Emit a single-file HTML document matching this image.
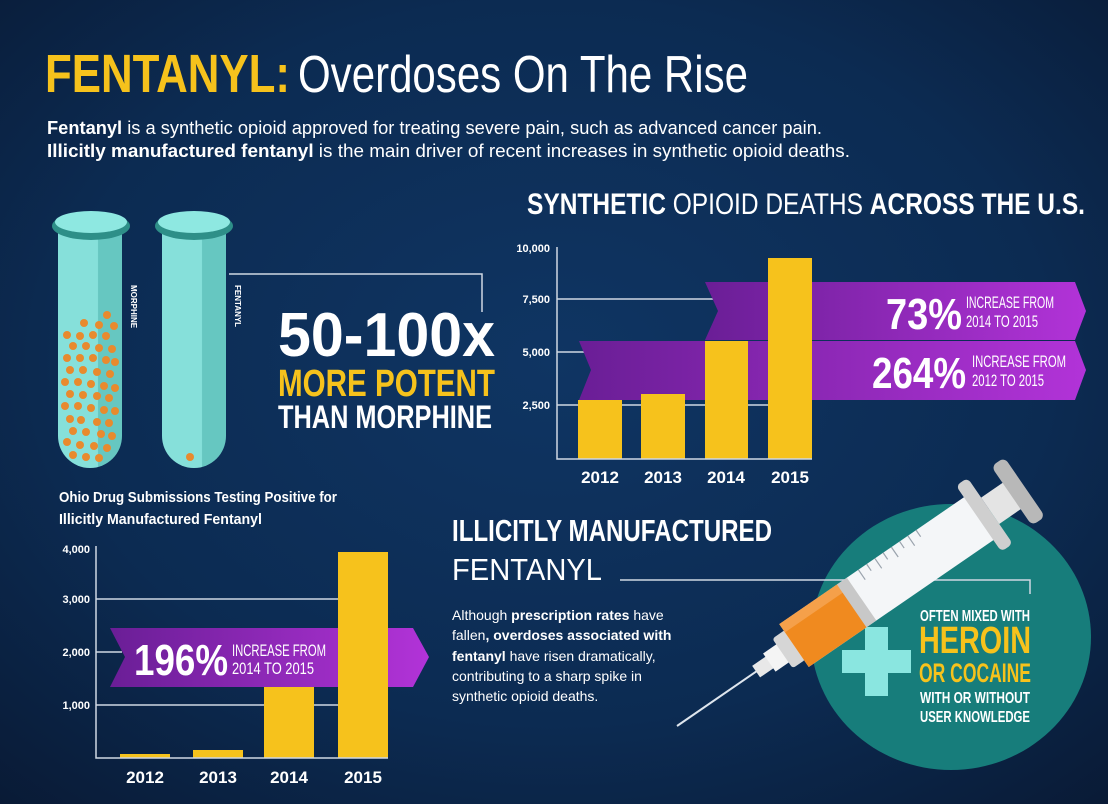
<!DOCTYPE html>
<html><head><meta charset="utf-8"><style>
html,body{margin:0;padding:0;background:#0b2244;}
svg{display:block}
text{font-family:"Liberation Sans Narrow","Liberation Sans",sans-serif;}
.w{fill:#fff}
.y{fill:#f6c21c}
</style></head><body>
<svg width="1108" height="804" viewBox="0 0 1108 804" xmlns="http://www.w3.org/2000/svg">
<defs>
<radialGradient id="bg" cx="0.5" cy="0.45" r="0.75">
<stop offset="0" stop-color="#0f3563"/><stop offset="0.6" stop-color="#0c2b52"/><stop offset="1" stop-color="#091a35"/>
</radialGradient>
<linearGradient id="rib" x1="0" x2="1" y1="0" y2="0">
<stop offset="0" stop-color="#6a1e96"/><stop offset="1" stop-color="#b233d8"/>
</linearGradient>
<linearGradient id="tube" x1="0" x2="1">
<stop offset="0" stop-color="#86e0da"/><stop offset="0.62" stop-color="#86e0da"/><stop offset="0.63" stop-color="#66c7c1"/><stop offset="1" stop-color="#66c7c1"/>
</linearGradient>
</defs>
<rect width="1108" height="804" fill="url(#bg)"/>

<!-- Title -->
<text x="45" y="92" font-size="54" font-weight="bold" class="y" textLength="245" lengthAdjust="spacingAndGlyphs">FENTANYL:</text>
<text x="298" y="92" font-size="52" class="w" textLength="450" lengthAdjust="spacingAndGlyphs">Overdoses On The Rise</text>
<text x="47" y="134" font-size="18" class="w" font-family="Liberation Sans" textLength="775" lengthAdjust="spacingAndGlyphs"><tspan font-weight="bold">Fentanyl</tspan> is a synthetic opioid approved for treating severe pain, such as advanced cancer pain.</text>
<text x="47" y="157" font-size="18" class="w" textLength="803" lengthAdjust="spacingAndGlyphs"><tspan font-weight="bold">Illicitly manufactured fentanyl</tspan> is the main driver of recent increases in synthetic opioid deaths.</text>

<!-- Tubes -->
<g>
<rect x="58" y="228" width="64" height="240" rx="32" fill="url(#tube)"/>
<rect x="58" y="228" width="64" height="180" fill="url(#tube)"/>
<ellipse cx="91" cy="226" rx="39" ry="14" fill="#2e8f88"/>
<ellipse cx="91" cy="222" rx="36" ry="11" fill="#8ee8e1"/>
<rect x="162" y="228" width="64" height="240" rx="32" fill="url(#tube)"/>
<rect x="162" y="228" width="64" height="180" fill="url(#tube)"/>
<ellipse cx="194" cy="226" rx="39" ry="14" fill="#2e8f88"/>
<ellipse cx="194" cy="222" rx="36" ry="11" fill="#8ee8e1"/>
<g fill="#e88a2e">
<circle cx="107" cy="315" r="4"/><circle cx="84" cy="323" r="4"/><circle cx="99" cy="325" r="4"/><circle cx="114" cy="326" r="4"/>
<circle cx="67" cy="335" r="4"/><circle cx="80" cy="336" r="4"/><circle cx="93" cy="335" r="4"/><circle cx="106" cy="336" r="4"/>
<circle cx="73" cy="346" r="4"/><circle cx="86" cy="346" r="4"/><circle cx="99" cy="348" r="4"/><circle cx="112" cy="349" r="4"/>
<circle cx="67" cy="358" r="4"/><circle cx="80" cy="358" r="4"/><circle cx="93" cy="358" r="4"/><circle cx="106" cy="360" r="4"/><circle cx="115" cy="362" r="4"/>
<circle cx="70" cy="370" r="4"/><circle cx="83" cy="370" r="4"/><circle cx="97" cy="372" r="4"/><circle cx="110" cy="374" r="4"/>
<circle cx="65" cy="382" r="4"/><circle cx="78" cy="382" r="4"/><circle cx="91" cy="384" r="4"/><circle cx="104" cy="386" r="4"/><circle cx="115" cy="388" r="4"/>
<circle cx="70" cy="394" r="4"/><circle cx="83" cy="395" r="4"/><circle cx="97" cy="396" r="4"/><circle cx="109" cy="398" r="4"/>
<circle cx="65" cy="406" r="4"/><circle cx="78" cy="406" r="4"/><circle cx="91" cy="408" r="4"/><circle cx="104" cy="410" r="4"/><circle cx="115" cy="411" r="4"/>
<circle cx="70" cy="419" r="4"/><circle cx="81" cy="420" r="4"/><circle cx="97" cy="422" r="4"/><circle cx="109" cy="423" r="4"/>
<circle cx="73" cy="431" r="4"/><circle cx="86" cy="432" r="4"/><circle cx="101" cy="434" r="4"/><circle cx="112" cy="436" r="4"/>
<circle cx="67" cy="442" r="4"/><circle cx="80" cy="445" r="4"/><circle cx="94" cy="446" r="4"/><circle cx="107" cy="448" r="4"/>
<circle cx="73" cy="455" r="4"/><circle cx="86" cy="457" r="4"/><circle cx="99" cy="458" r="4"/>
<circle cx="190" cy="457" r="4"/>
</g>
<text transform="translate(131,285) rotate(90)" font-size="8" class="w" font-weight="bold">MORPHINE</text>
<text transform="translate(235,285) rotate(90)" font-size="8" class="w" font-weight="bold">FENTANYL</text>
</g>
<polyline points="229,274 482,274 482,312" fill="none" stroke="#cfd8e3" stroke-width="1.5"/>
<text x="278" y="356" font-size="62" font-weight="bold" class="w" textLength="217" lengthAdjust="spacingAndGlyphs">50-100x</text>
<text x="278" y="396" font-size="38" font-weight="bold" class="y" textLength="217" lengthAdjust="spacingAndGlyphs">MORE POTENT</text>
<text x="278" y="428" font-size="32" font-weight="bold" class="w" textLength="214" lengthAdjust="spacingAndGlyphs">THAN MORPHINE</text>

<!-- Chart 1 -->
<text x="527" y="214" font-size="30" class="w" textLength="558" lengthAdjust="spacingAndGlyphs"><tspan font-weight="bold">SYNTHETIC</tspan> OPIOID DEATHS <tspan font-weight="bold">ACROSS THE U.S.</tspan></text>
<g font-size="11" font-weight="bold" class="w" text-anchor="end" font-family="Liberation Sans">
<text x="550" y="252">10,000</text><text x="550" y="303">7,500</text><text x="550" y="356">5,000</text><text x="550" y="409">2,500</text>
</g>
<g stroke="#cfd8e3" stroke-width="1.5">
<line x1="557" y1="299" x2="713" y2="299"/><line x1="557" y1="352" x2="585" y2="352"/><line x1="557" y1="405" x2="770" y2="405"/>
</g>
<polygon points="705,282 1075,282 1086,311 1075,340 705,340 718,311" fill="url(#rib)"/>
<polygon points="579,341 1075,341 1086,370 1075,400 579,400 591,370" fill="url(#rib)"/>
<g class="y">
<rect x="578" y="400" width="44" height="59"/><rect x="641" y="394" width="44" height="65"/><rect x="705" y="341" width="43" height="118"/><rect x="768" y="258" width="44" height="201"/>
</g>
<polyline points="557,247 557,459 812,459" fill="none" stroke="#cfd8e3" stroke-width="1.5"/>
<g font-size="17" font-weight="bold" class="w" text-anchor="middle" font-family="Liberation Sans">
<text x="600" y="483">2012</text><text x="663" y="483">2013</text><text x="726" y="483">2014</text><text x="790" y="483">2015</text>
</g>
<text x="886" y="329" font-size="44" font-weight="bold" class="w" textLength="76" lengthAdjust="spacingAndGlyphs">73%</text>
<text x="966" y="308" font-size="17" class="w" textLength="88" lengthAdjust="spacingAndGlyphs">INCREASE FROM</text>
<text x="966" y="327" font-size="17" class="w" textLength="72" lengthAdjust="spacingAndGlyphs">2014 TO 2015</text>
<text x="872" y="388" font-size="44" font-weight="bold" class="w" textLength="94" lengthAdjust="spacingAndGlyphs">264%</text>
<text x="972" y="367" font-size="17" class="w" textLength="94" lengthAdjust="spacingAndGlyphs">INCREASE FROM</text>
<text x="972" y="386" font-size="17" class="w" textLength="72" lengthAdjust="spacingAndGlyphs">2012 TO 2015</text>

<!-- Chart 2 -->
<text x="59" y="502" font-size="15" font-weight="bold" class="w" textLength="278" lengthAdjust="spacingAndGlyphs">Ohio Drug Submissions Testing Positive for</text>
<text x="59" y="524" font-size="15" font-weight="bold" class="w" textLength="203" lengthAdjust="spacingAndGlyphs">Illicitly Manufactured Fentanyl</text>
<g font-size="11" font-weight="bold" class="w" text-anchor="end" font-family="Liberation Sans">
<text x="90" y="553">4,000</text><text x="90" y="603">3,000</text><text x="90" y="656">2,000</text><text x="90" y="709">1,000</text>
</g>
<g stroke="#cfd8e3" stroke-width="1.5">
<line x1="96" y1="599" x2="338" y2="599"/><line x1="96" y1="652" x2="122" y2="652"/><line x1="96" y1="705" x2="338" y2="705"/>
</g>
<g class="y"><rect x="120" y="754" width="50" height="4"/><rect x="193" y="750" width="50" height="8"/><rect x="264" y="660" width="50" height="98"/></g>
<polygon points="110,628 413,628 429,657 413,687 110,687 125,657" fill="url(#rib)"/>
<rect x="338" y="552" width="50" height="206" class="y"/>
<polyline points="96,546 96,758 388,758" fill="none" stroke="#cfd8e3" stroke-width="1.5"/>
<g font-size="17" font-weight="bold" class="w" text-anchor="middle" font-family="Liberation Sans">
<text x="145" y="783">2012</text><text x="218" y="783">2013</text><text x="289" y="783">2014</text><text x="363" y="783">2015</text>
</g>
<text x="134" y="675" font-size="44" font-weight="bold" class="w" textLength="94" lengthAdjust="spacingAndGlyphs">196%</text>
<text x="232" y="656" font-size="17" class="w" textLength="94" lengthAdjust="spacingAndGlyphs">INCREASE FROM</text>
<text x="232" y="674" font-size="17" class="w" textLength="82" lengthAdjust="spacingAndGlyphs">2014 TO 2015</text>

<!-- Illicitly manufactured -->
<text x="452" y="541" font-size="31" font-weight="bold" class="w" textLength="320" lengthAdjust="spacingAndGlyphs">ILLICITLY MANUFACTURED</text>
<text x="452" y="580" font-size="31" class="w" textLength="150" lengthAdjust="spacingAndGlyphs">FENTANYL</text>
<g font-size="14" class="w" font-family="Liberation Sans">
<text x="452" y="620">Although <tspan font-weight="bold">prescription rates</tspan> have</text>
<text x="452" y="640">fallen<tspan font-weight="bold">, overdoses associated with</tspan></text>
<text x="452" y="661"><tspan font-weight="bold">fentanyl</tspan> have risen dramatically,</text>
<text x="452" y="681">contributing to a sharp spike in</text>
<text x="452" y="701">synthetic opioid deaths.</text>
</g>

<!-- circle -->
<ellipse cx="951" cy="637" rx="140" ry="133" fill="#177d7b"/>
<polyline points="620,580 1030,580 1030,594" fill="none" stroke="#cfd8e3" stroke-width="1.5"/>
<path d="M865,627 h23 v23 h23 v23 h-23 v23 h-23 v-23 h-23 v-23 h23z" fill="#8ae6e0"/>

<!-- syringe -->
<g transform="translate(677,726) rotate(-34.5)">
<line x1="0" y1="0" x2="100" y2="0" stroke="#dfe6ee" stroke-width="2"/>
<rect x="96" y="-7" width="18" height="14" fill="#e8e8e8"/>
<rect x="112" y="-11" width="18" height="22" fill="#f4f4f4"/>
<rect x="128" y="-18" width="16" height="36" rx="3" fill="#d6d6d6"/>
<rect x="142" y="-26" width="228" height="52" fill="#f4f6f8"/>
<rect x="142" y="-26" width="72" height="52" fill="#f08a1f"/>
<rect x="142" y="-26" width="72" height="10" fill="#f5a04a"/>
<rect x="212" y="-26" width="12" height="52" fill="#c8c8c8"/>
<g stroke="#9aa3ad" stroke-width="1.2"><line x1="238" y1="-26" x2="238" y2="-14"/><line x1="248" y1="-26" x2="248" y2="-18"/><line x1="258" y1="-26" x2="258" y2="-14"/><line x1="268" y1="-26" x2="268" y2="-18"/><line x1="278" y1="-26" x2="278" y2="-14"/><line x1="288" y1="-26" x2="288" y2="-18"/><line x1="298" y1="-26" x2="298" y2="-14"/><line x1="308" y1="-26" x2="308" y2="-18"/></g>
<rect x="366" y="-40" width="14" height="80" rx="5" fill="#cfcfcf"/>
<rect x="380" y="-16" width="30" height="32" fill="#e4e4e4"/>
<rect x="406" y="-36" width="16" height="72" rx="6" fill="#b8b8b8"/>
</g>

<g text-anchor="middle" font-weight="bold">
<text x="975" y="621" font-size="16" class="w" textLength="110" lengthAdjust="spacingAndGlyphs">OFTEN MIXED WITH</text>
<text x="975" y="653" font-size="38" class="y" textLength="112" lengthAdjust="spacingAndGlyphs">HEROIN</text>
<text x="975" y="682" font-size="27" class="y" textLength="112" lengthAdjust="spacingAndGlyphs">OR COCAINE</text>
<text x="975" y="703" font-size="16" class="w" textLength="110" lengthAdjust="spacingAndGlyphs">WITH OR WITHOUT</text>
<text x="975" y="722" font-size="16" class="w" textLength="110" lengthAdjust="spacingAndGlyphs">USER KNOWLEDGE</text>
</g>
</svg>
</body></html>
